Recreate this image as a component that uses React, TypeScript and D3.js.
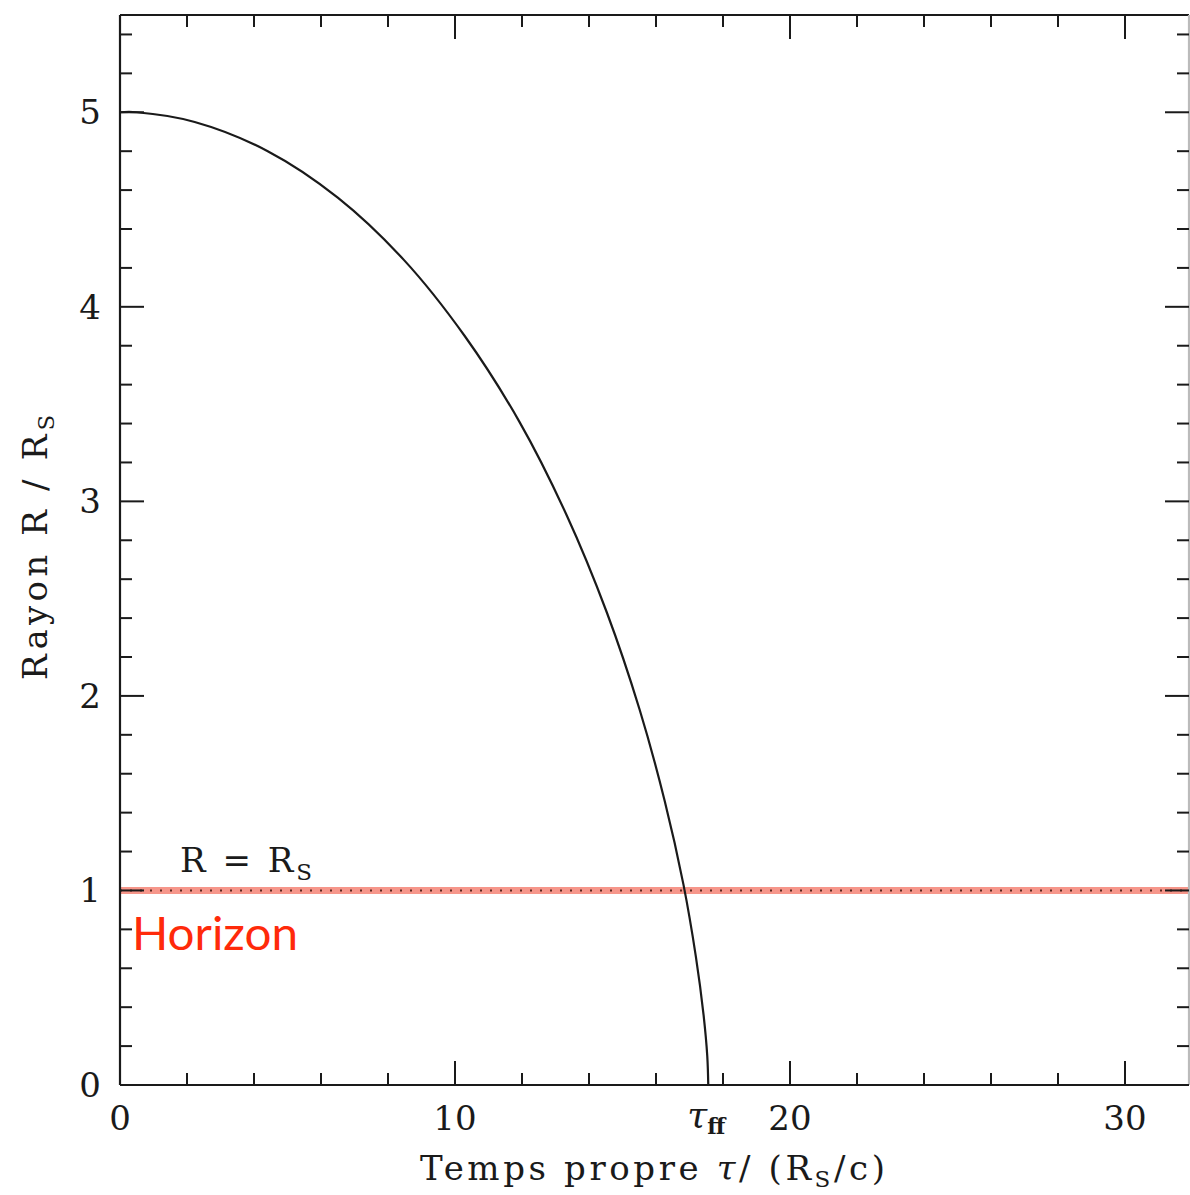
import React from 'react';
import * as d3 from 'd3';

// free-fall collapse: proper time tau (Rs/c) vs radius R (Rs)
const tauValues = [0, 0.5, 2.23, 4.41, 6.51, 8.48, 10.29, 11.92, 13.33, 14.53, 15.51, 16.26, 16.82, 17.19, 17.42, 17.53, 17.56];
const radiusValues = [5, 5, 4.95, 4.8, 4.56, 4.24, 3.85, 3.41, 2.93, 2.43, 1.93, 1.46, 1.03, 0.66, 0.36, 0.15, 0];

const xTickLabels = [0, 10, 20, 30];
const yTickLabels = [0, 1, 2, 3, 4, 5];
const horizonR = 1;
const tauFF = 17.56;

const W = 1190;
const H = 1195;
const left = 120;
const top = 15;
const bottom = 1085;
const rightEdge = 1189;

const serif = '"DejaVu Serif", "Liberation Serif", serif';
const ink = '#1a1a1a';

export default function App() {
  const x = d3.scaleLinear().domain([0, 32]).range([left, 1192]);
  const y = d3.scaleLinear().domain([0, 5.5]).range([bottom, top]);

  const pts: [number, number][] = tauValues.map((t, i) => [t, radiusValues[i]]);
  const line = d3.line<[number, number]>()
    .x(d => x(d[0]))
    .y(d => y(d[1]))
    .curve(d3.curveCatmullRom.alpha(0.5));

  const xMinor = d3.range(0, 33, 2).filter(v => v % 10 !== 0);
  const yMinor = d3.range(0, 5.51, 0.2).map(v => +v.toFixed(1)).filter(v => Math.abs(v - Math.round(v)) > 1e-6);

  const major = 24;
  const minor = 12;

  return (
    <svg width={W} height={H} style={{ position: 'absolute', left: 0, top: 0, background: '#fff' }}>
      {/* horizon band */}
      <line x1={left} x2={rightEdge} y1={y(horizonR)} y2={y(horizonR)} stroke="rgba(240,80,60,0.6)" strokeWidth={7} />
      <line x1={left} x2={rightEdge} y1={y(horizonR)} y2={y(horizonR)} stroke="#5a2a22" strokeWidth={2} strokeDasharray="2 8" />

      {/* curve */}
      <path d={line(pts) || ''} fill="none" stroke={ink} strokeWidth={2.2} />

      {/* frame */}
      <g stroke={ink} strokeWidth={2.2} fill="none">
        <line x1={left} x2={left} y1={top} y2={bottom} />
        <line x1={left} x2={rightEdge} y1={bottom} y2={bottom} />
        <line x1={left} x2={rightEdge} y1={top} y2={top} />
        <line x1={rightEdge} x2={rightEdge} y1={top} y2={bottom} stroke="#bbb" />
      </g>

      {/* ticks */}
      <g stroke={ink} strokeWidth={2}>
        {xTickLabels.map(v => (
          <g key={'xm' + v}>
            <line x1={x(v)} x2={x(v)} y1={bottom} y2={bottom - major} />
            <line x1={x(v)} x2={x(v)} y1={top} y2={top + major} />
          </g>
        ))}
        {xMinor.map(v => (
          <g key={'xn' + v}>
            <line x1={x(v)} x2={x(v)} y1={bottom} y2={bottom - minor} />
            <line x1={x(v)} x2={x(v)} y1={top} y2={top + minor} />
          </g>
        ))}
        {yTickLabels.map(v => (
          <g key={'ym' + v}>
            <line x1={left} x2={left + major} y1={y(v)} y2={y(v)} />
            <line x1={rightEdge} x2={rightEdge - major} y1={y(v)} y2={y(v)} />
          </g>
        ))}
        {yMinor.map(v => (
          <g key={'yn' + v}>
            <line x1={left} x2={left + minor} y1={y(v)} y2={y(v)} />
            <line x1={rightEdge} x2={rightEdge - minor} y1={y(v)} y2={y(v)} />
          </g>
        ))}
      </g>

      {/* tick labels */}
      <g fontFamily={serif} fontSize={34} fill={ink}>
        {xTickLabels.map(v => (
          <text key={'xl' + v} x={x(v)} y={1130} textAnchor="middle">{v}</text>
        ))}
        {yTickLabels.map(v => (
          <text key={'yl' + v} x={101} y={y(v) + 12} textAnchor="end">{v}</text>
        ))}
        <text x={x(tauFF) - 21} y={1127} fontStyle="italic" fontSize={36}>τ
          <tspan dy={7} fontSize={22} fontWeight="bold" fontStyle="normal">ff</tspan>
        </text>
      </g>

      {/* axis titles */}
      <text x={420} y={1180} fontFamily={serif} fontSize={34} fill={ink} letterSpacing={3.6}>
        Temps propre <tspan fontStyle="italic">τ</tspan>/ (R<tspan dy={7} fontSize={23}>S</tspan><tspan dy={-7}>/c)</tspan>
      </text>
      <text transform={`translate(47,${680}) rotate(-90)`} fontFamily={serif} fontSize={34} fill={ink} letterSpacing={4.2}>
        Rayon R / R<tspan dy={7} fontSize={23}>S</tspan>
      </text>

      {/* annotations */}
      <text x={180} y={872} fontFamily={serif} fontSize={34} fill={ink} letterSpacing={3}>
        R = R<tspan dy={8} fontSize={23}>S</tspan>
      </text>
      <text x={132} y={950} fontFamily='"Lato", "Open Sans", sans-serif' fontSize={47} fill="#ff2a0a" textLength={166} lengthAdjust="spacingAndGlyphs">
        Horizon
      </text>
    </svg>
  );
}
